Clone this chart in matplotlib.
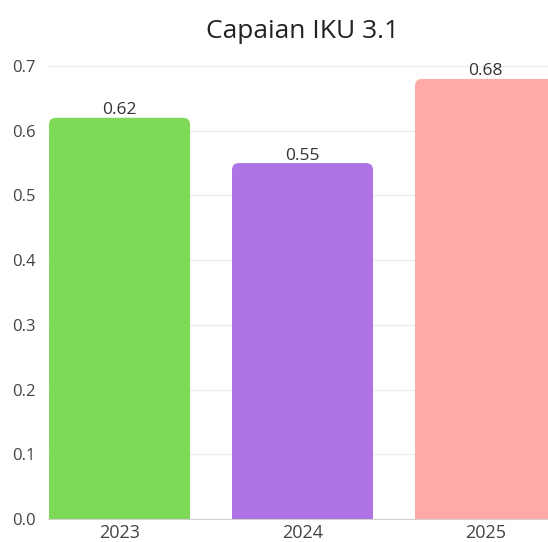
import matplotlib
matplotlib.use("Agg")
import matplotlib.pyplot as plt
from matplotlib.path import Path
from matplotlib.patches import PathPatch

plt.rcParams["font.family"] = ["Open Sans", "DejaVu Sans"]

years = ["2023", "2024", "2025"]
values = [0.62, 0.55, 0.68]
colors = ["#7ED957", "#AE74E6", "#FFA9A9"]
yticks = [0.0, 0.1, 0.2, 0.3, 0.4, 0.5, 0.6, 0.7]

W, H = 548, 542
fig = plt.figure(figsize=(W / 100, H / 100), dpi=100)
ax_left, ax_right, ax_top, ax_bottom = 48, 548, 66, 519
ax = fig.add_axes([ax_left / W, (H - ax_bottom) / H,
                   (ax_right - ax_left) / W, (ax_bottom - ax_top) / H])

px_x = 183.0          # pixels per category
bar_w = 141 / px_x
x0_lim = -bar_w / 2 - 1 / px_x
ax.set_xlim(x0_lim, x0_lim + (ax_right - ax_left) / px_x)
ax.set_ylim(0, 0.7)

px_y = (ax_bottom - ax_top) / 0.7
radius = 7.0


def rounded_top(x0, w, h):
    rx = radius / px_x
    ry = radius / px_y
    verts = [(x0, 0), (x0, h - ry), (x0, h), (x0 + rx, h),
             (x0 + w - rx, h), (x0 + w, h), (x0 + w, h - ry),
             (x0 + w, 0), (x0, 0)]
    codes = [Path.MOVETO, Path.LINETO, Path.CURVE3, Path.CURVE3,
             Path.LINETO, Path.CURVE3, Path.CURVE3, Path.LINETO,
             Path.CLOSEPOLY]
    return Path(verts, codes)


bars = ax.bar(range(len(years)), values, width=bar_w, color=colors)
for b in bars:
    x0, w, h = b.get_x(), b.get_width(), b.get_height()
    b.set_visible(False)
    ax.add_patch(PathPatch(rounded_top(x0, w, h), facecolor=b.get_facecolor(),
                           edgecolor="none", zorder=3))
    ax.annotate(f"{h:.2f}", (x0 + w / 2, h), xytext=(0, 2.5),
                textcoords="offset points", ha="center", va="baseline",
                fontsize=12.5, color="#333333", annotation_clip=False)

ax.set_yticks(yticks)
ax.set_yticklabels([f"{t:.1f}" for t in yticks])
ax.set_xticks(range(len(years)))
ax.set_xticklabels(years)
ax.grid(axis="y", color="#EDEDED", linewidth=1, zorder=0)
ax.set_axisbelow(True)
for s in ["left", "right", "top"]:
    ax.spines[s].set_visible(False)
ax.spines["bottom"].set_color("#D0D0D0")
ax.spines["bottom"].set_zorder(4)
ax.tick_params(axis="both", length=0, labelcolor="#444444")
ax.tick_params(axis="y", pad=9, labelsize=12)
ax.tick_params(axis="x", pad=3.5, labelsize=13)

fig.text(303 / W, 1 - 38 / H, "Capaian IKU 3.1", ha="center", va="baseline",
         fontsize=19, color="#222222")

fig.savefig("out.png", dpi=100)
